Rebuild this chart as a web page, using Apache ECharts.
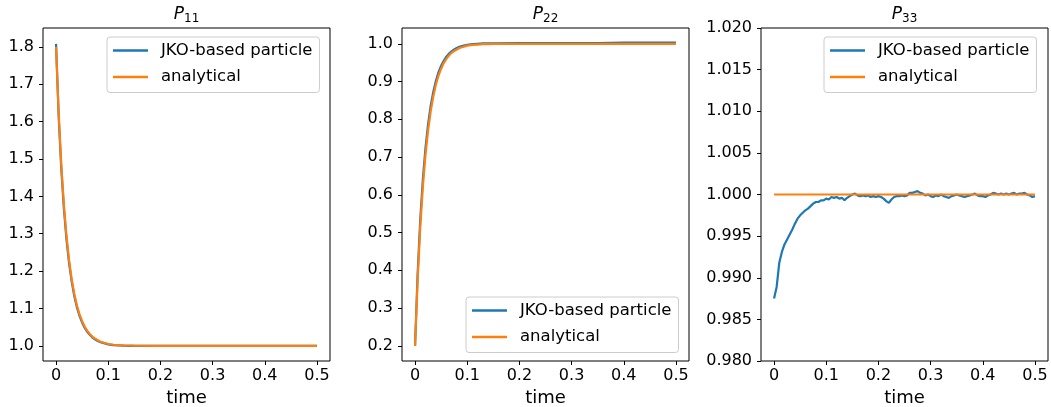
<!DOCTYPE html>
<html>
<head>
<meta charset="utf-8">
<script src="https://cdn.jsdelivr.net/npm/echarts@6/dist/echarts.min.js"></script>
<style>
html,body{margin:0;padding:0;background:#fff;}
#chart{width:1051px;height:407px;}
</style>
</head>
<body>
<div id="chart"></div>
<script>
// ---- data ----
const seriesNames = ['JKO-based particle', 'analytical'];
const panelTitles = ['11', '22', '33'];
const xTicks = [0, 0.1, 0.2, 0.3, 0.4, 0.5];
const yTicks11 = [1.0, 1.1, 1.2, 1.3, 1.4, 1.5, 1.6, 1.7, 1.8];
const yTicks22 = [0.2, 0.3, 0.4, 0.5, 0.6, 0.7, 0.8, 0.9, 1.0];
const yTicks33 = [0.980, 0.985, 0.990, 0.995, 1.000, 1.005, 1.010, 1.015, 1.020];

const tAB = [0, 0.005, 0.01, 0.015, 0.02, 0.025, 0.03, 0.035, 0.04, 0.045, 0.05,
  0.055, 0.06, 0.065, 0.07, 0.075, 0.08, 0.085, 0.09, 0.095, 0.1,
  0.11, 0.12, 0.13, 0.14, 0.15, 0.2, 0.25, 0.3, 0.35, 0.4, 0.45, 0.5];

const p11Jko = [1.808, 1.615, 1.475, 1.368, 1.285, 1.221, 1.172, 1.133, 1.103, 1.080, 1.062,
  1.048, 1.037, 1.029, 1.022, 1.017, 1.013, 1.010, 1.008, 1.006, 1.004,
  1.002, 1.001, 1.0005, 1.0002, 0.9999, 0.9998, 0.9998, 0.9999, 0.9998, 0.9999, 0.9998, 0.9999];
const p11Ana = [1.8, 1.623, 1.485, 1.378, 1.294, 1.229, 1.178, 1.139, 1.108, 1.084, 1.066,
  1.051, 1.040, 1.031, 1.024, 1.019, 1.015, 1.011, 1.009, 1.007, 1.005,
  1.003, 1.002, 1.001, 1.001, 1.0004, 1.0, 1.0, 1.0, 1.0, 1.0, 1.0, 1.0];
const p22Jko = [0.2, 0.392, 0.535, 0.642, 0.724, 0.787, 0.836, 0.873, 0.902, 0.925, 0.942,
  0.955, 0.966, 0.974, 0.980, 0.985, 0.989, 0.992, 0.994, 0.996, 0.997,
  0.999, 1.000, 1.001, 1.001, 1.001, 1.002, 1.002, 1.002, 1.002, 1.003, 1.003, 1.003];
const p22Ana = [0.2, 0.377, 0.515, 0.622, 0.706, 0.771, 0.822, 0.861, 0.892, 0.916, 0.934,
  0.949, 0.960, 0.969, 0.976, 0.981, 0.985, 0.989, 0.991, 0.993, 0.995,
  0.997, 0.998, 0.999, 0.999, 1.0, 1.0, 1.0, 1.0, 1.0, 1.0, 1.0, 1.0];

const t33 = [0, 0.005, 0.01, 0.015, 0.02, 0.025, 0.03, 0.035, 0.04, 0.045,
  0.05, 0.055, 0.06, 0.065, 0.07, 0.075, 0.08, 0.085, 0.09, 0.095,
  0.1, 0.105, 0.11, 0.115, 0.12, 0.125, 0.13, 0.135, 0.14, 0.145,
  0.15, 0.155, 0.16, 0.165, 0.17, 0.175, 0.18, 0.185, 0.19, 0.195,
  0.2, 0.205, 0.21, 0.215, 0.22, 0.225, 0.23, 0.235, 0.24, 0.245,
  0.25, 0.255, 0.26, 0.265, 0.27, 0.275, 0.28, 0.285, 0.29, 0.295,
  0.3, 0.305, 0.31, 0.315, 0.32, 0.325, 0.33, 0.335, 0.34, 0.345,
  0.35, 0.355, 0.36, 0.365, 0.37, 0.375, 0.38, 0.385, 0.39, 0.395,
  0.4, 0.405, 0.41, 0.415, 0.42, 0.425, 0.43, 0.435, 0.44, 0.445,
  0.45, 0.455, 0.46, 0.465, 0.47, 0.475, 0.48, 0.485, 0.49, 0.495, 0.5];
const p33Jko = [0.9875, 0.9889, 0.9918, 0.9931, 0.9940, 0.9946, 0.9952, 0.9958, 0.9965, 0.9971,
  0.9975, 0.9978, 0.9981, 0.9983, 0.9986, 0.9989, 0.9991, 0.9991, 0.9993, 0.9993,
  0.9995, 0.9994, 0.9997, 0.9996, 0.9997, 0.9995, 0.9996, 0.9993, 0.9996, 0.9998,
  1.0000, 1.0001, 0.9999, 0.9998, 0.9999, 0.9998, 0.9999, 0.9997, 0.9998, 0.9997,
  0.9998, 0.9997, 0.9995, 0.9992, 0.9990, 0.9994, 0.9997, 0.9998, 0.9998, 0.9999,
  0.9998, 0.9999, 1.0002, 1.0002, 1.0003, 1.0004, 1.0002, 1.0001, 0.9999, 1.0000,
  0.9998, 0.9997, 0.9999, 0.9998, 1.0000, 0.9998, 0.9997, 0.9996, 0.9998, 0.9999,
  1.0000, 0.9999, 0.9998, 0.9997, 0.9998, 0.9999, 1.0000, 1.0001, 0.9999, 0.9998,
  0.9998, 0.9997, 0.9999, 1.0000, 1.0002, 1.0001, 1.0000, 1.0001, 1.0000, 1.0001,
  1.0000, 1.0001, 1.0002, 1.0000, 1.0001, 1.0001, 1.0002, 1.0000, 0.9999, 0.9997, 0.9998];
const t33Ana = [0, 0.5];
const p33Ana = [1.0, 1.0];

// ---- build ----
const BLUE = '#1f77b4', ORANGE = '#ff7f0e';
const FONT = 'DejaVu Sans';
const zip = (xs, ys) => xs.map((x, i) => [x, ys[i]]);

const grids = [
  {left: 43, top: 28, width: 287, height: 333},
  {left: 402, top: 28, width: 287, height: 333},
  {left: 761, top: 28, width: 287, height: 333}
];
const yRanges = [
  {min: 0.9595, max: 1.8505, ticks: yTicks11, dec: 1},
  {min: 0.1599, max: 1.0418, ticks: yTicks22, dec: 1},
  {min: 0.98, max: 1.02, ticks: yTicks33, dec: 3}
];
const legendPos = [
  {left: 107, top: 37},
  {left: 466, top: 297},
  {left: 824, top: 37}
];

const option = {
  animation: false,
  backgroundColor: '#fff',
  textStyle: {fontFamily: FONT},
  title: grids.map((g, i) => ({
    text: '{p|P}{s|' + panelTitles[i] + '}',
    left: g.left + g.width / 2,
    textAlign: 'center',
    top: 6,
    padding: 0,
    textStyle: {
      fontWeight: 'normal',
      rich: {
        p: {fontFamily: FONT, fontSize: 17, fontStyle: 'italic', fontWeight: 'normal', color: '#000', lineHeight: 19, verticalAlign: 'top'},
        s: {fontFamily: FONT, fontSize: 12, fontWeight: 'normal', color: '#000', lineHeight: 19, verticalAlign: 'bottom'}
      }
    }
  })),
  grid: grids.map(g => Object.assign({show: true, borderColor: '#000', borderWidth: 1, backgroundColor: 'transparent', containLabel: false, outerBoundsMode: 'none'}, g)),
  legend: legendPos.map(p => ({
    data: seriesNames,
    orient: 'vertical',
    left: p.left,
    top: p.top,
    icon: 'rect',
    itemWidth: 35,
    itemHeight: 2.5,
    itemGap: 9.5,
    padding: [5, 7, 7, 6],
    backgroundColor: 'rgba(255,255,255,0.8)',
    borderColor: '#cccccc',
    borderWidth: 1,
    borderRadius: 3,
    textStyle: {fontFamily: FONT, fontSize: 16.5, color: '#000', padding: [0, 0, 0, 8]},
    z: 10
  })),
  xAxis: grids.map((g, i) => ({
    gridIndex: i,
    type: 'value',
    position: 'bottom',
    min: -0.025,
    max: 0.525,
    name: 'time',
    nameLocation: 'middle',
    nameGap: 28,
    nameTextStyle: {fontFamily: FONT, fontSize: 18, color: '#000'},
    axisLine: {show: false, onZero: false},
    splitLine: {show: false},
    axisTick: {show: true, inside: false, length: 4, customValues: xTicks, lineStyle: {color: '#000', width: 1}},
    axisLabel: {
      customValues: xTicks,
      fontFamily: FONT, fontSize: 16, color: '#000', margin: 7,
      formatter: v => (Math.abs(v) < 1e-9 ? '0' : v.toFixed(1))
    }
  })),
  yAxis: yRanges.map((r, i) => ({
    gridIndex: i,
    type: 'value',
    position: 'left',
    min: r.min,
    max: r.max,
    axisLine: {show: false, onZero: false},
    splitLine: {show: false},
    axisTick: {show: true, inside: false, length: 4, customValues: r.ticks, lineStyle: {color: '#000', width: 1}},
    axisLabel: {
      customValues: r.ticks,
      fontFamily: FONT, fontSize: 16, color: '#000', margin: 9,
      formatter: v => v.toFixed(r.dec)
    }
  })),
  series: [
    {name: seriesNames[0], type: 'line', xAxisIndex: 0, yAxisIndex: 0, data: zip(tAB, p11Jko), showSymbol: false, lineStyle: {color: BLUE, width: 2.2}, itemStyle: {color: BLUE}},
    {name: seriesNames[1], type: 'line', xAxisIndex: 0, yAxisIndex: 0, data: zip(tAB, p11Ana), showSymbol: false, lineStyle: {color: ORANGE, width: 2.2}, itemStyle: {color: ORANGE}},
    {name: seriesNames[0], type: 'line', xAxisIndex: 1, yAxisIndex: 1, data: zip(tAB, p22Jko), showSymbol: false, lineStyle: {color: BLUE, width: 2.2}, itemStyle: {color: BLUE}},
    {name: seriesNames[1], type: 'line', xAxisIndex: 1, yAxisIndex: 1, data: zip(tAB, p22Ana), showSymbol: false, lineStyle: {color: ORANGE, width: 2.2}, itemStyle: {color: ORANGE}},
    {name: seriesNames[0], type: 'line', xAxisIndex: 2, yAxisIndex: 2, data: zip(t33, p33Jko), showSymbol: false, lineStyle: {color: BLUE, width: 2.2}, itemStyle: {color: BLUE}},
    {name: seriesNames[1], type: 'line', xAxisIndex: 2, yAxisIndex: 2, data: zip(t33Ana, p33Ana), showSymbol: false, lineStyle: {color: ORANGE, width: 2.2}, itemStyle: {color: ORANGE}}
  ]
};

const chart = echarts.init(document.getElementById('chart'), null, {renderer: 'canvas'});
chart.setOption(option);
</script>
</body>
</html>
